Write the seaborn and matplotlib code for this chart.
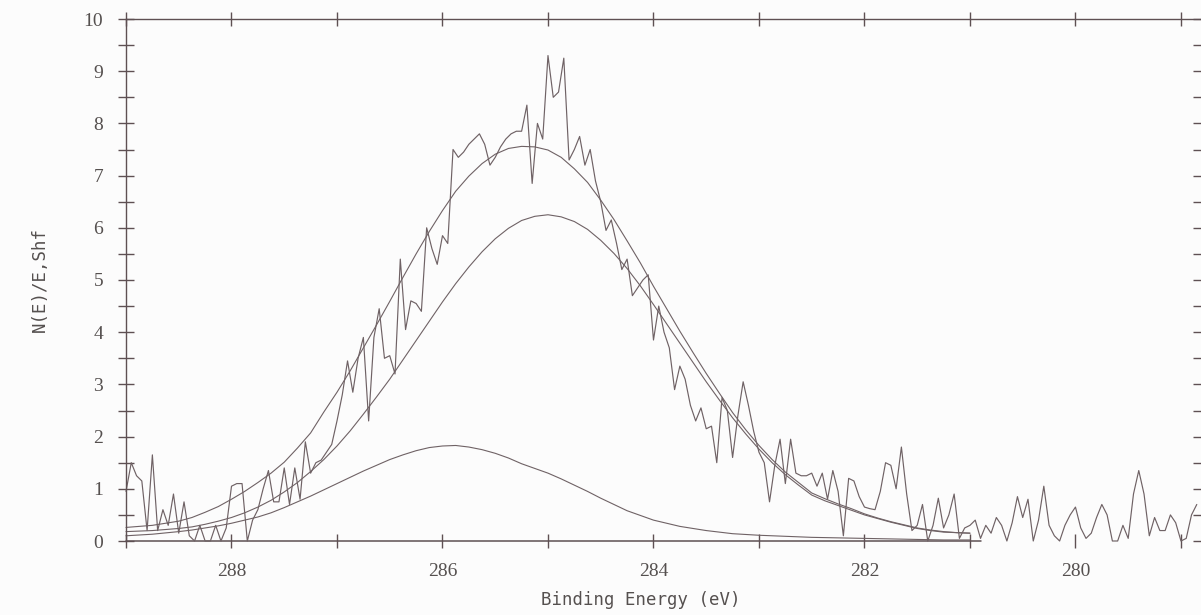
import numpy as np
import pandas as pd
import matplotlib
matplotlib.use("Agg")
import matplotlib.pyplot as plt
import seaborn as sns

# --- C 1s spectrum: raw counts on a 0.05 eV grid, 289.0 eV downwards ---
energy_start = 289.0
energy_step = 0.05
counts = [
    0.95, 1.5, 1.25, 1.15, 0.2, 1.65, 0.2, 0.6, 0.3, 0.9,
    0.15, 0.75, 0.1, 0.0, 0.3, 0.0, 0.0, 0.3, 0.0, 0.25,
    1.05, 1.1, 1.1, 0.0, 0.4, 0.6, 1.0, 1.35, 0.75, 0.75,
    1.4, 0.7, 1.4, 0.8, 1.9, 1.3, 1.5, 1.55, 1.7, 1.85,
    2.3, 2.8, 3.45, 2.85, 3.5, 3.9, 2.3, 3.9, 4.45, 3.5,
    3.55, 3.2, 5.4, 4.05, 4.6, 4.55, 4.4, 6.0, 5.6, 5.3,
    5.85, 5.7, 7.5, 7.35, 7.45, 7.6, 7.7, 7.8, 7.6, 7.2,
    7.35, 7.55, 7.7, 7.8, 7.85, 7.85, 8.35, 6.85, 8.0, 7.7,
    9.3, 8.5, 8.6, 9.25, 7.3, 7.5, 7.75, 7.2, 7.5, 6.9,
    6.5, 5.95, 6.15, 5.7, 5.2, 5.4, 4.7, 4.85, 5.0, 5.1,
    3.85, 4.5, 4.0, 3.7, 2.9, 3.35, 3.1, 2.6, 2.3, 2.55,
    2.15, 2.2, 1.5, 2.75, 2.5, 1.6, 2.4, 3.05, 2.6, 2.1,
    1.7, 1.5, 0.75, 1.45, 1.95, 1.1, 1.95, 1.3, 1.25, 1.25,
    1.3, 1.05, 1.3, 0.8, 1.35, 0.95, 0.1, 1.2, 1.15, 0.85,
    0.65, 0.62, 0.6, 0.95, 1.5, 1.45, 1.0, 1.8, 0.9, 0.2,
    0.3, 0.7, 0.0, 0.3, 0.82, 0.25, 0.5, 0.9, 0.05, 0.25,
    0.3, 0.4, 0.05, 0.3, 0.15, 0.45, 0.3, 0.0, 0.35, 0.85,
    0.45, 0.8, 0.0, 0.4, 1.05, 0.3, 0.1, 0.0, 0.3, 0.5,
    0.65, 0.25, 0.05, 0.15, 0.45, 0.7, 0.5, 0.0, 0.0, 0.3,
    0.05, 0.9, 1.35, 0.9, 0.1, 0.45, 0.2, 0.2, 0.5, 0.35,
    0.0, 0.05, 0.5, 0.7,
]

# --- curve fit, sampled every 0.125 eV from 289.0 to 281.0 eV ---
fit_start = 289.0
fit_step = 0.125
envelope = [
    0.26, 0.28, 0.30, 0.34, 0.38, 0.45, 0.55, 0.66, 0.80,
    0.95, 1.12, 1.30, 1.51, 1.78, 2.07, 2.47, 2.85,
    3.26, 3.70, 4.14, 4.59, 5.05, 5.50, 5.93, 6.33,
    6.70, 6.99, 7.23, 7.41, 7.52, 7.56, 7.55, 7.49,
    7.35, 7.13, 6.87, 6.53, 6.16, 5.75, 5.33, 4.88,
    4.45, 4.02, 3.61, 3.21, 2.83, 2.46, 2.13, 1.83,
    1.56, 1.32, 1.12, 0.92, 0.81, 0.71, 0.62, 0.52,
    0.44, 0.37, 0.31, 0.25, 0.21, 0.18, 0.16, 0.15,
]
peak_285 = [
    0.18, 0.19, 0.20, 0.22, 0.24, 0.27, 0.32, 0.38, 0.45,
    0.54, 0.65, 0.78, 0.94, 1.12, 1.33, 1.56, 1.82,
    2.11, 2.43, 2.76, 3.10, 3.47, 3.84, 4.21, 4.58,
    4.93, 5.25, 5.54, 5.79, 5.99, 6.14, 6.22, 6.25,
    6.21, 6.12, 5.97, 5.76, 5.51, 5.22, 4.89, 4.53,
    4.16, 3.79, 3.42, 3.05, 2.70, 2.36, 2.05, 1.76,
    1.50, 1.27, 1.07, 0.88, 0.77, 0.68, 0.59, 0.50,
    0.43, 0.36, 0.30, 0.24, 0.20, 0.17, 0.16, 0.15,
]
peak_286 = [
    0.10, 0.115, 0.13, 0.155, 0.18, 0.21, 0.25, 0.29, 0.34,
    0.40, 0.46, 0.54, 0.64, 0.75, 0.86, 0.98, 1.10,
    1.22, 1.34, 1.45, 1.56, 1.65, 1.73, 1.79, 1.82,
    1.83, 1.80, 1.75, 1.68, 1.59, 1.48, 1.39, 1.30,
    1.19, 1.07, 0.95, 0.82, 0.70, 0.58, 0.49, 0.40,
    0.34, 0.28, 0.24, 0.20, 0.17, 0.14, 0.125, 0.11,
    0.10, 0.09, 0.08, 0.07, 0.065, 0.06, 0.055, 0.05,
    0.045, 0.04, 0.035, 0.03, 0.025, 0.02, 0.02, 0.02,
]
baseline_energy = [289.0, 280.9]
baseline_level = [0.0, 0.0]

x_ticks = [288, 286, 284, 282, 280]
x_minor = [289, 287, 285, 283, 281, 279]
y_ticks = list(range(0, 11))

energy = np.round(energy_start - energy_step * np.arange(len(counts)), 3)
fit_energy = np.round(fit_start - fit_step * np.arange(len(envelope)), 3)
spec = pd.DataFrame({"energy": energy, "counts": counts})
fit = pd.DataFrame({"energy": fit_energy, "envelope": envelope,
                    "p285": peak_285, "p286": peak_286})
base = pd.DataFrame({"energy": baseline_energy, "level": baseline_level})

sns.set_style("white")
plt.rcParams["font.family"] = ["DejaVu Sans Mono", "DejaVu Sans"]

ink = "#5e5053"
line_col = "#6f6265"
text_col = "#55504f"

fig = plt.figure(figsize=(12.01, 6.15), dpi=100, facecolor="#fcfcfc")
ax = fig.add_axes([126 / 1201, 1 - 541 / 615, 1075 / 1201, 522 / 615])
ax.set_facecolor("#fcfcfc")

sns.lineplot(data=base, x="energy", y="level", ax=ax, color=ink,
             linewidth=1.1, sort=False)
for col in ["p286", "p285", "envelope"]:
    sns.lineplot(data=fit, x="energy", y=col, ax=ax, color=line_col,
                 linewidth=0.8, sort=False)
sns.lineplot(data=spec, x="energy", y="counts", ax=ax, color=line_col,
             linewidth=0.85, sort=False)
for ln in ax.lines:
    ln.set_clip_on(False)

ax.set_xlim(289.0, 278.81)
ax.set_ylim(0, 10)

ax.set_xticks(x_ticks)
ax.set_xticks(x_minor, minor=True)
ax.set_xticklabels([str(t) for t in x_ticks])
ax.set_yticks(y_ticks)
ax.set_yticks(np.arange(0.5, 10, 1.0), minor=True)
ax.set_yticklabels([str(t) for t in y_ticks])

ax.tick_params(axis="x", which="both", direction="inout", length=10,
               width=1.0, color=ink, top=True, bottom=True,
               labeltop=False, pad=10.5, labelsize=14, labelcolor=text_col)
ax.tick_params(axis="y", which="both", direction="inout", length=11,
               width=1.0, color=ink, left=True, right=True,
               labelright=False, pad=11, labelsize=14, labelcolor=text_col)
for lab in ax.get_xticklabels() + ax.get_yticklabels():
    lab.set_fontfamily("Liberation Serif")

for side in ["bottom", "right"]:
    ax.spines[side].set_visible(False)
for side in ["left", "top"]:
    ax.spines[side].set_color(ink)
    ax.spines[side].set_linewidth(1.0)

ax.set_xlabel("Binding Energy (eV)", fontsize=12.5, color=text_col)
ax.xaxis.set_label_coords(0.479, -0.095)
ax.set_ylabel("N(E)/E,Shf", fontsize=12.5, color=text_col)
ax.yaxis.set_label_coords(-0.072, 0.5)

fig.savefig("out.png", dpi=100, facecolor=fig.get_facecolor())
